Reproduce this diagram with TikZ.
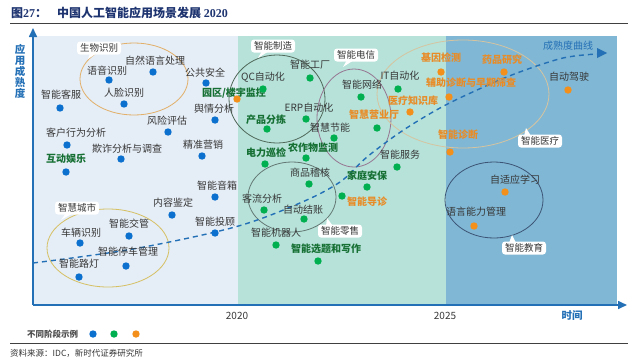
\documentclass[tikz,border=0pt]{standalone}
\usepackage{fontspec}
\setmainfont{Noto Sans CJK SC}
\newfontfamily\latinserif{Liberation Serif}
\usetikzlibrary{arrows.meta}
\definecolor{bgleft}{RGB}{229,237,246}
\definecolor{bgmid}{RGB}{182,226,217}
\definecolor{bgright}{RGB}{128,183,212}
\definecolor{axisblue}{RGB}{36,112,182}
\definecolor{dotblue}{RGB}{12,112,206}
\definecolor{dotgreen}{RGB}{0,176,80}
\definecolor{dotorange}{RGB}{243,144,28}
\definecolor{txtdark}{RGB}{55,55,55}
\definecolor{txtgreen}{RGB}{22,112,52}
\definecolor{txtorange}{RGB}{232,140,40}
\definecolor{titleblue}{RGB}{30,52,112}
\definecolor{ellorange}{RGB}{226,176,106}
\definecolor{ellyellow}{RGB}{214,192,100}
\definecolor{ellgreen}{RGB}{80,104,90}
\definecolor{ellmauve}{RGB}{150,118,146}
\definecolor{elltan}{RGB}{214,196,160}
\definecolor{ellgray}{RGB}{100,120,115}
\definecolor{ellnavy}{RGB}{60,84,118}
\begin{document}
\begin{tikzpicture}[x=1bp,y=-1bp,
  lbl/.style={text=txtdark, font=\fontsize{10bp}{12bp}\selectfont, inner sep=0},
  glbl/.style={lbl, text=txtgreen, font=\fontsize{10bp}{12bp}\selectfont\bfseries},
  olbl/.style={lbl, text=txtorange, font=\fontsize{10bp}{12bp}\selectfont\bfseries},
  bdot/.style={circle, fill=dotblue, minimum size=7.4bp, inner sep=0},
  gdot/.style={bdot, fill=dotgreen},
  odot/.style={bdot, fill=dotorange},
  callout/.style={fill=white, rounded corners=3bp, text=txtdark, font=\fontsize{9.5bp}{11bp}\selectfont, inner xsep=3bp, inner ysep=1.5bp, minimum height=13bp},
  ell/.style={line width=0.8bp},
  axisline/.style={axisblue, line width=1.6bp, -{Triangle[length=9bp,width=8bp]}},
  curve/.style={axisblue, line width=1.4bp, dash pattern=on 5bp off 4bp},
  rule/.style={black!75, line width=1bp}
]
\useasboundingbox (0,0) rectangle (628,362);
% title
\node[anchor=west, inner sep=0, text=titleblue, font=\fontsize{12bp}{14bp}\selectfont\bfseries] (fig) at (11,13) {图{\latinserif 27}：};
\node[anchor=west, inner sep=0, text=titleblue, font=\fontsize{12bp}{14bp}\selectfont\bfseries] (title) at (57,13) {中国人工智能应用场景发展 {\latinserif 2020}};
\draw[rule] (10,23.5) -- (628,23.5);
% backgrounds
\fill[bgleft] (33,36) rectangle (238,305);
\fill[bgmid] (238,36) rectangle (446,305);
\fill[bgright] (446,36) rectangle (617,305);
% ellipses
\draw[ell, ellorange] (134,79) ellipse [x radius=54, y radius=36];
\draw[ell, ellyellow] (108,248) ellipse [x radius=61, y radius=39];
\draw[ell, ellgreen] (277,99) ellipse [x radius=48, y radius=44];
\draw[ell, ellmauve] (354,118) ellipse [x radius=37, y radius=49];
\draw[ell, elltan] (463,94) ellipse [x radius=86, y radius=54];
\draw[ell, ellgray] (292,197) ellipse [x radius=44, y radius=35];
\draw[ell, ellnavy] (494,200) ellipse [x radius=49, y radius=38];
% axes
\draw[axisline] (33,305) -- (33,28);
\draw[axisline] (33,305) -- (627,305);
\node[text=axisblue, font=\fontsize{10.5bp}{11bp}\selectfont\bfseries, align=center, inner sep=0] (ylab) at (20,71) {应\\用\\成\\熟\\度};
\node[lbl, font=\fontsize{10bp}{12bp}\selectfont] (x2020) at (237,316) {2020};
\node[lbl, font=\fontsize{10bp}{12bp}\selectfont] (x2025) at (445,316) {2025};
\node[lbl, text=axisblue, font=\fontsize{10.5bp}{12bp}\selectfont\bfseries] (xlab) at (572,316) {时间};
% maturity curve
\coordinate (c0) at (33,263);
\coordinate (c1) at (606,53);
\draw[curve] plot[smooth, tension=0.55] coordinates {(33,263) (133,249) (235,227) (300,203) (340,182) (367,157) (402,131) (440,108) (477,90) (517,73) (563,58) (597,54)};
\fill[axisblue] (607,53) -- (597,48) -- (597,58) -- cycle;
\node[lbl, text=axisblue, font=\fontsize{10bp}{12bp}\selectfont] (curvelab) at (568,46) {成熟度曲线};
% ---- blue stage
\node[lbl] (t1) at (155,61) {自然语言处理}; \node[bdot] (d1) at (153,72) {};
\node[lbl] (t2) at (107,71) {语音识别}; \node[bdot] (d2) at (109,80) {};
\node[lbl] (t3) at (124,93) {人脸识别}; \node[bdot] (d3) at (124,104) {};
\node[lbl] (t4) at (205,73) {公共安全}; \node[bdot] (d4) at (206,83) {};
\node[lbl] (t5) at (61,95) {智能客服}; \node[bdot] (d5) at (60,108) {};
\node[glbl] (t6) at (234,93) {园区/楼宇监控}; \node[odot] (d6) at (237,99) {};
\node[lbl] (t7) at (214,109) {舆情分析}; \node[bdot] (d7) at (215,120) {};
\node[lbl] (t8) at (167,121) {风险评估}; \node[bdot] (d8) at (168,132) {};
\node[lbl] (t9) at (76,133) {客户行为分析}; \node[bdot] (d9) at (67,145) {};
\node[lbl] (t10) at (127,149) {欺诈分析与调查}; \node[bdot] (d10) at (121,159) {};
\node[lbl] (t11) at (203,145) {精准营销}; \node[bdot] (d11) at (202,156) {};
\node[glbl] (t12) at (66,159) {互动娱乐}; \node[bdot] (d12) at (66,172) {};
\node[lbl] (t13) at (217,186) {智能音箱}; \node[bdot] (d13) at (215,197) {};
\node[lbl] (t14) at (173,203) {内容鉴定}; \node[bdot] (d14) at (172,215) {};
\node[lbl] (t15) at (215,222) {智能投顾}; \node[bdot] (d15) at (215,233) {};
\node[lbl] (t16) at (81,233) {车辆识别}; \node[bdot] (d16) at (80,243) {};
\node[lbl] (t17) at (129,224) {智能交管}; \node[bdot] (d17) at (129,236) {};
\node[lbl] (t18) at (128,252) {智能停车管理}; \node[bdot] (d18) at (126,266) {};
\node[lbl] (t19) at (79,264) {智能路灯}; \node[bdot] (d19) at (79,277) {};
% ---- green stage
\node[lbl] (t20) at (310,65) {智能工厂}; \node[gdot] (d20) at (310,78) {};
\node[lbl] (t21) at (263,77) {QC自动化}; \node[gdot] (d21) at (263,89) {};
\node[lbl] (t22) at (309,108) {ERP自动化}; \node[gdot] (d22) at (306,119) {};
\node[glbl] (t23) at (266,120) {产品分拣}; \node[gdot] (d23) at (267,129) {};
\node[lbl] (t24) at (330,128) {智慧节能}; \node[gdot] (d24) at (334,138) {};
\node[lbl] (t25) at (362,85) {智能网络}; \node[gdot] (d25) at (361,97) {};
\node[olbl] (t26) at (374,115) {智慧营业厅}; \node[gdot] (d26) at (377,128) {};
\node[lbl] (t27) at (400,76) {IT自动化}; \node[gdot] (d27) at (398,89) {};
\node[glbl] (t28) at (266,153) {电力巡检}; \node[gdot] (d28) at (265,164) {};
\node[glbl] (t29) at (313,148) {农作物监测}; \node[gdot] (d29) at (306,158) {};
\node[lbl] (t30) at (400,155) {智能服务}; \node[gdot] (d30) at (397,167) {};
\node[glbl] (t31) at (367,176) {家庭安保}; \node[gdot] (d31) at (367,187) {};
\node[olbl] (t32) at (367,202) {智能导诊}; \node[gdot] (d32) at (342,196) {};
\node[lbl] (t33) at (310,173) {商品稽核}; \node[gdot] (d33) at (309,184) {};
\node[lbl] (t34) at (262,199) {客流分析}; \node[gdot] (d34) at (264,210) {};
\node[lbl] (t35) at (303,210) {自动结账}; \node[gdot] (d35) at (304,219) {};
\node[lbl] (t36) at (276,233) {智能机器人}; \node[gdot] (d36) at (276,245) {};
\node[glbl] (t37) at (326,249) {智能选题和写作}; \node[gdot] (d37) at (318,261) {};
% ---- orange stage
\node[olbl] (t38) at (413,101) {医疗知识库}; \node[odot] (d38) at (410,112) {};
\node[olbl] (t39) at (441,58) {基因检测}; \node[odot] (d39) at (441,72) {};
\node[olbl] (t40) at (502,60) {药品研究}; \node[odot] (d40) at (504,72) {};
\node[olbl] (t41) at (471,83) {辅助诊断与早期筛查}; \node[odot] (d41) at (449,97) {};
\node[olbl] (t42) at (458,135) {智能诊断}; \node[odot] (d42) at (450,152) {};
\node[lbl] (t43) at (569,77) {自动驾驶}; \node[odot] (d43) at (568,90) {};
\node[lbl] (t44) at (515,180) {自适应学习}; \node[odot] (d44) at (505,192) {};
\node[lbl] (t45) at (476,212) {语言能力管理}; \node[odot] (d45) at (474,226) {};
% ---- callouts
\fill[white] (90,53) -- (97,53) -- (88,59) -- cycle;
\node[callout] (cb1) at (99,48) {生物识别};
\fill[white] (66,213) -- (73,213) -- (61,220) -- cycle;
\node[callout] (cb2) at (77,208) {智慧城市};
\fill[white] (262,51) -- (269,51) -- (258,58) -- cycle;
\node[callout] (cb3) at (273,46) {智能制造};
\fill[white] (347,60) -- (354,60) -- (343,67) -- cycle;
\node[callout] (cb4) at (356,55) {智能电信};
\fill[white] (326,226) -- (333,226) -- (327,218) -- cycle;
\node[callout] (cb5) at (340,231) {智能零售};
\fill[white] (524,136) -- (531,136) -- (526,128) -- cycle;
\node[callout] (cb6) at (540,141) {智能医疗};
\fill[white] (509,243) -- (516,243) -- (512,235) -- cycle;
\node[callout] (cb7) at (524,248) {智能教育};
% legend
\node[lbl, anchor=west, font=\fontsize{8.5bp}{10bp}\selectfont\bfseries, text=black!70] (leg) at (27,334) {不同阶段示例};
\node[bdot] (lg1) at (93,334) {};
\node[gdot] (lg2) at (114,334) {};
\node[odot] (lg3) at (136,334) {};
\draw[rule] (10,343) -- (628,343);
\node[lbl, anchor=west, font=\fontsize{8.5bp}{10bp}\selectfont, text=black!80] (src) at (10,353) {资料来源：IDC，新时代证券研究所};
\end{tikzpicture}
\end{document}
